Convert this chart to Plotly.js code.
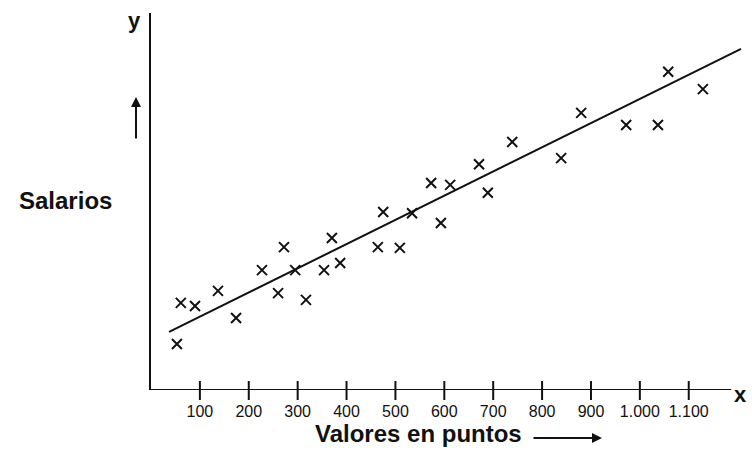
<!DOCTYPE html>
<html>
<head>
<meta charset="utf-8">
<script src="https://cdn.plot.ly/plotly-3.0.1.min.js"></script>
<style>html,body{margin:0;padding:0;background:#fff;}#chart{width:752px;height:452px;}</style>
</head>
<body>
<div id="chart"></div>
<script>
// Valores en puntos (x) and Salarios (y, arbitrary units 0-100)
const puntos = [53, 61, 90, 137, 174, 227, 260, 272, 295, 317, 354, 370, 387, 464, 475, 509, 534, 573, 593, 612, 671, 689, 739, 839, 880, 972, 1037, 1058, 1129];
const salarios = [12.2, 23.1, 22.3, 26.3, 19.1, 31.8, 25.7, 37.9, 31.8, 23.9, 31.8, 40.3, 33.7, 37.9, 47.2, 37.7, 46.9, 54.9, 44.3, 54.4, 59.9, 52.3, 65.8, 61.5, 73.5, 70.3, 70.3, 84.4, 79.8];
// regression line endpoints
const rectaX = [37, 1207];
const rectaY = [15.4, 90.5];
// tick labels
const tickVals = [100, 200, 300, 400, 500, 600, 700, 800, 900, 1000, 1100];
const tickText = ["100", "200", "300", "400", "500", "600", "700", "800", "900", "1.000", "1.100"];

const XMAX = 1211;
const FONT = "Liberation Sans, Arial, Helvetica, sans-serif";

const traces = [
  {x: rectaX, y: rectaY, mode: "lines", type: "scatter",
   line: {color: "#111", width: 2}, hoverinfo: "skip", showlegend: false},
  {x: puntos, y: salarios, mode: "markers", type: "scatter",
   marker: {symbol: "x-thin", size: 10, color: "#111", line: {color: "#111", width: 2}},
   showlegend: false}
];

// cross ticks crossing the x axis line
const tickShapes = tickVals.map(v => ({
  type: "line", xref: "x", yref: "paper", ysizemode: "pixel", yanchor: 0,
  x0: v, x1: v, y0: -10, y1: 9, line: {color: "#111", width: 2}
}));

const layout = {
  width: 752, height: 452,
  margin: {l: 151, r: 9, t: 13, b: 62},
  paper_bgcolor: "#fff", plot_bgcolor: "#fff",
  font: {family: FONT, color: "#111"},
  xaxis: {range: [0, XMAX], showgrid: false, zeroline: false, showline: false,
          tickmode: "array", tickvals: tickVals, ticktext: tickText,
          ticks: "outside", ticklen: 7, tickwidth: 2, tickcolor: "rgba(0,0,0,0)",
          tickfont: {family: FONT, size: 16, color: "#111"}, ticklabelstandoff: 0},
  yaxis: {range: [0, 100], showgrid: false, zeroline: false, showline: true,
          linecolor: "#111", linewidth: 2, ticks: "", showticklabels: false},
  shapes: [
    {type: "line", xref: "x", yref: "y", x0: 0, x1: 1187, y0: 0, y1: 0,
     line: {color: "#111", width: 2}}
  ].concat(tickShapes),
  annotations: [
    {text: "<b>Valores en puntos</b>", xref: "paper", yref: "paper",
     x: (313 - 151) / 592, y: (390 - 434) / 377, xanchor: "left", yanchor: "middle",
     showarrow: false, font: {family: FONT, size: 24, color: "#111"}},
    {text: "", xref: "paper", yref: "paper",
     x: (602 - 151) / 592, y: (390 - 438) / 377, ax: -70, ay: 0,
     showarrow: true, arrowhead: 2, arrowsize: 1, arrowwidth: 2, arrowcolor: "#111"},
    {text: "<b>Salarios</b>", xref: "paper", yref: "paper",
     x: (17 - 151) / 592, y: (390 - 200) / 377, xanchor: "left", yanchor: "middle",
     showarrow: false, font: {family: FONT, size: 24, color: "#111"}},
    {text: "", xref: "paper", yref: "paper",
     x: (136 - 151) / 592, y: (390 - 97) / 377, ax: 0, ay: 43,
     showarrow: true, arrowhead: 2, arrowsize: 1, arrowwidth: 2, arrowcolor: "#111"},
    {text: "<b>y</b>", xref: "paper", yref: "paper",
     x: (134 - 151) / 592, y: (390 - 20) / 377, xanchor: "center", yanchor: "middle",
     showarrow: false, font: {family: FONT, size: 22, color: "#111"}},
    {text: "<b>x</b>", xref: "paper", yref: "paper",
     x: (740 - 151) / 592, y: (390 - 395) / 377, xanchor: "center", yanchor: "middle",
     showarrow: false, font: {family: FONT, size: 22, color: "#111"}}
  ]
};

Plotly.newPlot("chart", traces, layout, {displayModeBar: false, staticPlot: true});
</script>
</body>
</html>
